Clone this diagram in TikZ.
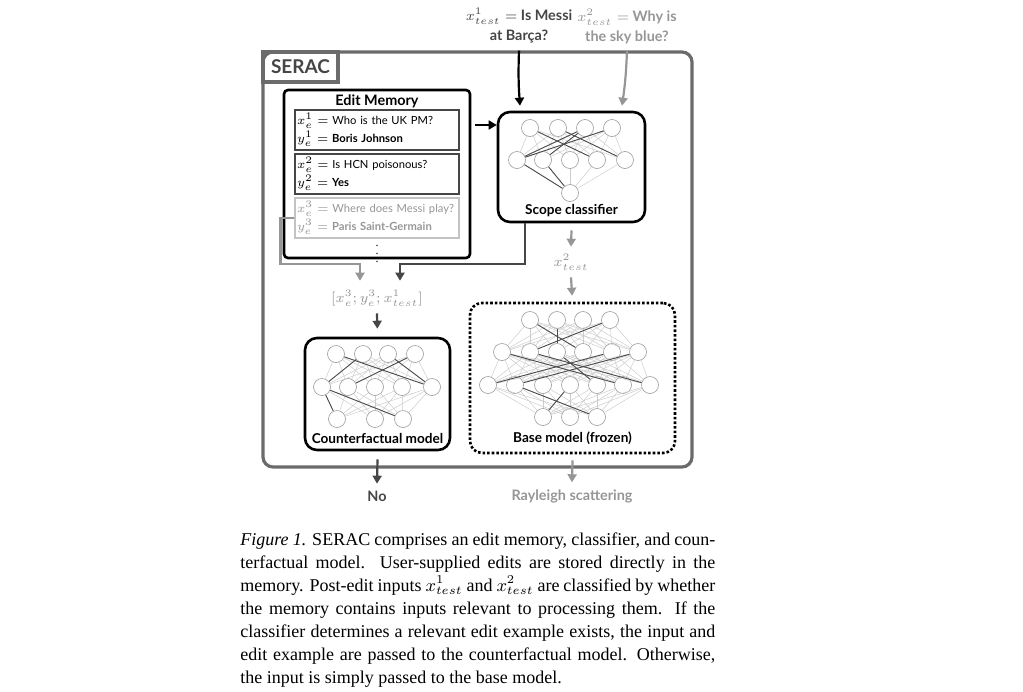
\documentclass[tikz,border=0pt]{standalone}
\usepackage{fontspec}
\setmainfont{Liberation Serif}
\newfontfamily\diagfont{Lato}
\usetikzlibrary{arrows.meta,calc}

\definecolor{inkdark}{RGB}{70,70,70}
\definecolor{inkgray}{RGB}{150,150,150}
\definecolor{inklight}{RGB}{195,195,195}

\begin{document}
\begin{tikzpicture}[x=0.5pt,y=-0.5pt,
    neuron/.style={circle,draw=gray!80,fill=white,minimum size=8.5pt,inner sep=0pt,line width=0.3pt},
    wire/.style={gray!40,line width=0.25pt},
    boldwire/.style={black!70,line width=0.45pt},
    flow/.style={-{Triangle[length=4pt,width=4.5pt]},line width=1.1pt,inkdark},
    grayflow/.style={flow,inkgray},
    model/.style={draw=black,line width=1.3pt,rounded corners=6pt,inner sep=0pt},
    memitem/.style={draw=inkdark,line width=0.6pt,text width=80pt,minimum height=20pt,align=left,inner sep=1pt,font=\diagfont\fontsize{5.6}{9}\selectfont},
    boxlabel/.style={font=\diagfont\bfseries\fontsize{6.8}{8}\selectfont},
    inlabel/.style={align=center,font=\diagfont\bfseries\fontsize{7.2}{10}\selectfont}]

    \useasboundingbox (0,0) rectangle (1023,691);

    % Outer SERAC frame
    \node[draw=inkdark!80,line width=1.6pt,rounded corners=5pt,minimum width=214.5pt,minimum height=207.5pt] (serac) at (477.5,259.5) {};
    \node[draw=inkdark!80,line width=1.6pt,anchor=north west,minimum width=37.5pt,minimum height=15pt,font=\diagfont\bfseries\fontsize{9.5}{11}\selectfont,text=inkdark] (seraclbl) at (serac.north west) {SERAC};

    % Test inputs
    \node[inlabel,text=inkdark] (xone) at (519,26) {$x^1_{test}=$ Is Messi\\at Barça?};
    \node[inlabel,text=inkgray] (xtwo) at (627,26) {$x^2_{test}=$ Why is\\the sky blue?};

    % Edit memory
    \node[draw=black,line width=1.3pt,rounded corners=2pt,minimum width=93pt,minimum height=84pt] (memory) at (377,174) {};
    \node[boxlabel,font=\diagfont\bfseries\fontsize{7.2}{8}\selectfont] (memtitle) at (377,101) {Edit Memory};
    \node[memitem] (mem1) at (377,130) {$x^1_e=$ Who is the UK PM?\\$y^1_e=$ \textbf{Boris Johnson}};
    \node[memitem] (mem2) at (377,174) {$x^2_e=$ Is HCN poisonous?\\$y^2_e=$ \textbf{Yes}};
    \node[memitem,draw=inklight,text=inkgray] (mem3) at (377,218) {$x^3_e=$ Where does Messi play?\\$y^3_e=$ \textbf{Paris Saint-Germain}};
    \node[font=\fontsize{6}{6}\selectfont,inner sep=0pt] (memdots) at (377,248) {$\vdots$};

    % Scope classifier
    \node[model,minimum width=73.5pt,minimum height=55pt] (scope) at (571.5,167) {};
    \node[boxlabel] (scopelbl) at (571.5,211) {Scope classifier};
    \foreach \x [count=\i] in {530,558,585,612} \node[neuron] (sa\i) at (\x,128) {};
    \foreach \x [count=\i] in {517,543,570,597,625} \node[neuron] (sb\i) at (\x,160) {};
    \node[neuron] (sc1) at (570,193) {};
    \foreach \i in {1,...,4} \foreach \j in {1,...,5} \draw[wire] (sa\i) -- (sb\j);
    \foreach \j in {1,...,5} \draw[wire] (sb\j) -- (sc1);
    \foreach \a/\b in {sb1/sa3,sb1/sa4,sa1/sb4,sa2/sb5,sa3/sb2,sb1/sc1,sb2/sc1} \draw[boldwire] (\a) -- (\b);

    % Counterfactual model
    \node[model,minimum width=72.5pt,minimum height=56pt] (cf) at (377.5,394) {};
    \node[boxlabel] (cflbl) at (377.5,438) {Counterfactual model};
    \foreach \x [count=\i] in {336,363,388,415} \node[neuron] (ca\i) at (\x,354) {};
    \foreach \x [count=\i] in {322,348,375,402,432} \node[neuron] (cb\i) at (\x,387) {};
    \foreach \x [count=\i] in {337,375,403} \node[neuron] (cc\i) at (\x,419) {};
    \foreach \i in {1,...,4} \foreach \j in {1,...,5} \draw[wire] (ca\i) -- (cb\j);
    \foreach \i in {1,...,5} \foreach \j in {1,...,3} \draw[wire] (cb\i) -- (cc\j);
    \foreach \a/\b in {ca1/cb5,ca2/cb1,ca4/cb2,ca3/cb5,cb1/cc3,cb1/cc1} \draw[boldwire] (\a) -- (\b);

    % Base model
    \node[model,dash pattern=on 1.3pt off 1pt,minimum width=102.5pt,minimum height=75pt] (base) at (572.5,378) {};
    \node[boxlabel] (baselbl) at (572.5,438) {Base model (frozen)};
    \foreach \x [count=\i] in {530,557,583,610} \node[neuron] (ba\i) at (\x,320) {};
    \foreach \x [count=\i] in {502,530,557,583,612,638} \node[neuron] (bb\i) at (\x,352) {};
    \foreach \x [count=\i] in {488,515,543,570,597,623,650} \node[neuron] (bc\i) at (\x,385) {};
    \foreach \x [count=\i] in {543,570,597} \node[neuron] (bd\i) at (\x,417) {};
    \foreach \i in {1,...,4} \foreach \j in {1,...,6} \draw[wire] (ba\i) -- (bb\j);
    \foreach \i in {1,...,6} \foreach \j in {1,...,7} \draw[wire] (bb\i) -- (bc\j);
    \foreach \i in {1,...,7} \foreach \j in {1,...,3} \draw[wire] (bc\i) -- (bd\j);
    \foreach \a/\b in {ba1/bb4,ba2/bb3,ba4/bb2,bb1/bc6,bb2/bc7,bb6/bc2,bb5/bc1,bb3/bc5,bc2/bd3,bc4/bd1} \draw[boldwire] (\a) -- (\b);

    % Labels between boxes
    \node[font=\fontsize{7.5}{10}\selectfont,text=inkgray] (concat) at (377,298) {$[x^3_e;y^3_e;x^1_{test}]$};
    \node[font=\fontsize{7.5}{10}\selectfont,text=inkgray] (xtwotest) at (571,262) {$x^2_{test}$};

    % Outputs
    \node[inlabel,text=inkdark] (no) at (377,496) {No};
    \node[inlabel,text=inkgray] (rayleigh) at (572,496) {Rayleigh scattering};

    % Arrows
    \coordinate (memout) at (475,125);
    \draw[flow,black,line width=0.8pt] (memout) -- (memout -| scope.west);
    \draw[flow,black] (xone.south) to[bend right=3] ([shift={(1,-5)}]xone.south |- scope.north);
    \draw[grayflow] (xtwo.south) to[bend left=3] ([shift={(-5,-5)}]xtwo.south |- scope.north);
    \draw[grayflow] ([shift={(0,7)}]scope.south) -- (xtwotest.north);
    \draw[grayflow,shorten >=3pt] (xtwotest.south) -- (base.north);
    \draw[flow] ([shift={(28,0)}]scope.south west) |- ([shift={(23,-19)}]concat.north) -- ([shift={(23,-2)}]concat.north);
    \draw[grayflow] (mem3.west) -- ++(-14,0) |- ([shift={(-17,-19)}]concat.north) -- ([shift={(-17,-2)}]concat.north);
    \draw[flow,shorten >=4pt] (concat.south) -- (cf.north);
    \draw[flow] ([shift={(0,8)}]cf.south) -- (no.north);
    \draw[grayflow] ([shift={(0,6)}]base.south) -- (rayleigh.north);

    % Caption
    \node[anchor=north west,text width=237.5pt,align=justify,inner sep=0pt,font=\fontsize{9}{11.55}\selectfont] (caption) at (240,532) {\textit{Figure 1.} SERAC comprises an edit memory, classifier, and coun-\linebreak terfactual model. User-supplied edits are stored directly in the\linebreak memory. Post-edit inputs $x^1_{test}$ and $x^2_{test}$ are classified by whether\linebreak the memory contains inputs relevant to processing them. If the\linebreak classifier determines a relevant edit example exists, the input and\linebreak edit example are passed to the counterfactual model. Otherwise,\linebreak the input is simply passed to the base model.};
\end{tikzpicture}
\end{document}
